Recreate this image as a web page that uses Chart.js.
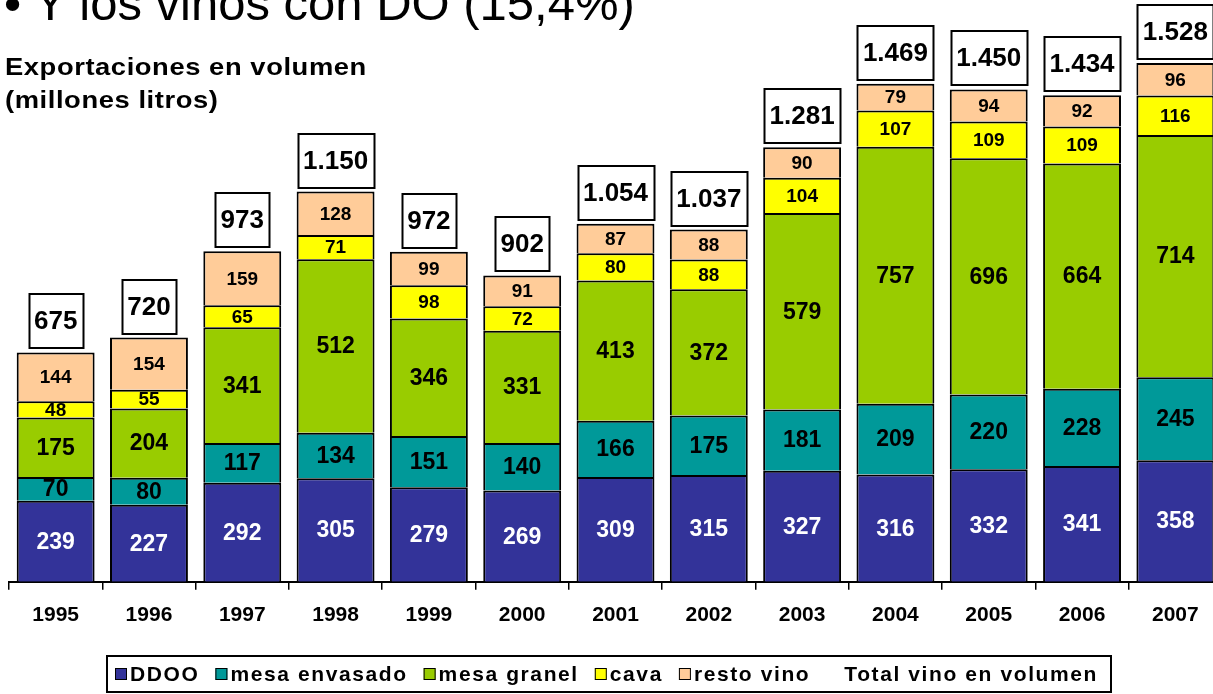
<!DOCTYPE html>
<html>
<head>
<meta charset="utf-8">
<script src="https://cdn.jsdelivr.net/npm/chart.js@4.4.1/dist/chart.umd.min.js"></script>
<style>
html, body { margin: 0; padding: 0; background: #fff; overflow: hidden; width: 1213px; height: 694px; }
#wrap { position: relative; width: 1224px; height: 694px; }
#title { position: absolute; left: 4px; top: -21px; font: 49px "Liberation Sans", Arial, sans-serif; line-height: 48px; white-space: nowrap; color: #000; }
#ytitle { position: absolute; left: 5px; top: 50px; font: bold 24px "Liberation Sans", Arial, sans-serif; line-height: 33px; letter-spacing: 0.5px; color: #000; white-space: nowrap; transform: scaleX(1.14); transform-origin: 0 0; }
canvas { position: absolute; left: 0; top: 0; }
</style>
</head>
<body>
<div id="wrap">
    <canvas id="chart" width="1224" height="694"></canvas>
    <div id="title">&bull; Y los vinos con DO (15,4%)</div>
    <div id="ytitle">Exportaciones en volumen<br>(millones litros)</div>
</div>
<script>
// Data
const years = ['1995', '1996', '1997', '1998', '1999', '2000', '2001', '2002', '2003', '2004', '2005', '2006', '2007'];
const ddoo = [239, 227, 292, 305, 279, 269, 309, 315, 327, 316, 332, 341, 358];
const mesaEnvasado = [70, 80, 117, 134, 151, 140, 166, 175, 181, 209, 220, 228, 245];
const mesaGranel = [175, 204, 341, 512, 346, 331, 413, 372, 579, 757, 696, 664, 714];
const cava = [48, 55, 65, 71, 98, 72, 80, 88, 104, 107, 109, 109, 116];
const restoVino = [144, 154, 159, 128, 99, 91, 87, 88, 90, 79, 94, 92, 96];
const totalVino = [675, 720, 973, 1150, 972, 902, 1054, 1037, 1281, 1469, 1450, 1434, 1528];

const FONT = '"Liberation Sans", Arial, sans-serif';

// 1150 -> "1.150"
function fmt(n) {
    if (n < 1000) return String(n);
    return Math.floor(n / 1000) + '.' + String(n % 1000).padStart(3, '0');
}

function barSet(label, data, color) {
    return {
        label: label,
        data: data,
        backgroundColor: color,
        borderColor: '#000',
        // only top + sides, so each divider between segments stays 2px
        borderWidth: { top: 2, bottom: 0, left: 2, right: 2 },
        borderSkipped: false,
        inflateAmount: 0,
        barPercentage: 0.835,
        categoryPercentage: 1
    };
}

// Values inside each segment
const segmentLabels = {
    id: 'segmentLabels',
    afterDatasetsDraw(chart) {
        const ctx = chart.ctx;
        ctx.save();
        ctx.textAlign = 'center';
        ctx.textBaseline = 'middle';
        chart.data.datasets.forEach((ds, i) => {
            const meta = chart.getDatasetMeta(i);
            const size = i < 3 ? 23 : 19;
            ctx.font = `bold ${size}px ${FONT}`;
            ctx.fillStyle = i === 0 ? '#fff' : '#000';
            meta.data.forEach((bar, j) => {
                const y = (bar.y + bar.base) / 2 + 1;
                ctx.fillText(String(ds.data[j]), bar.x, y);
            });
        });
        ctx.restore();
    }
};

// Boxed totals above every stack
const totalBoxes = {
    id: 'totalBoxes',
    afterDatasetsDraw(chart) {
        const ctx = chart.ctx;
        const top = chart.getDatasetMeta(chart.data.datasets.length - 1);
        ctx.save();
        ctx.font = `bold 26px ${FONT}`;
        ctx.textAlign = 'center';
        ctx.textBaseline = 'middle';
        top.data.forEach((bar, j) => {
            const txt = fmt(totalVino[j]);
            const w = Math.round(ctx.measureText(txt).width + 11);
            const h = 54;
            const x = Math.round(bar.x - w / 2) + 0.5;
            const y = Math.round(bar.y - 4 - h);
            ctx.fillStyle = '#fff';
            ctx.fillRect(x, y, w, h);
            ctx.lineWidth = 2;
            ctx.strokeStyle = '#000';
            ctx.strokeRect(x, y, w, h);
            ctx.fillStyle = '#000';
            ctx.fillText(txt, bar.x, y + h / 2 + 1);
        });
        ctx.restore();
    }
};

// Boxed legend at the bottom
const boxLegend = {
    id: 'boxLegend',
    afterDraw(chart) {
        const ctx = chart.ctx;
        ctx.save();
        ctx.lineWidth = 2;
        ctx.strokeStyle = '#000';
        ctx.strokeRect(107, 656, 1004, 36);
        ctx.font = `bold 21px ${FONT}`;
        if ('letterSpacing' in ctx) ctx.letterSpacing = '1.6px';
        ctx.textBaseline = 'middle';
        ctx.textAlign = 'left';
        const cy = 674;
        let x = 115;
        chart.data.datasets.forEach(ds => {
            ctx.fillStyle = ds.backgroundColor;
            ctx.fillRect(x, cy - 6, 12, 12);
            ctx.lineWidth = 1;
            ctx.strokeStyle = '#000';
            ctx.strokeRect(x + 0.5, cy - 5.5, 11, 11);
            ctx.fillStyle = '#000';
            ctx.fillText(ds.label, x + 15, cy + 1);
            x += 15 + ctx.measureText(ds.label).width + 16;
        });
        ctx.fillText('Total vino en volumen', x + 18, cy + 1);
        ctx.restore();
    }
};

const ctx = document.getElementById('chart').getContext('2d');

new Chart(ctx, {
    type: 'bar',
    data: {
        labels: years,
        datasets: [
            barSet('DDOO', ddoo, '#333399'),
            barSet('mesa envasado', mesaEnvasado, '#009999'),
            barSet('mesa granel', mesaGranel, '#99CC00'),
            barSet('cava', cava, '#FFFF00'),
            barSet('resto vino', restoVino, '#FFCC99')
        ]
    },
    options: {
        responsive: false,
        animation: false,
        layout: { padding: { left: 9, right: 2, top: 5, bottom: 53 } },
        scales: {
            x: {
                stacked: true,
                grid: { offset: true, drawOnChartArea: false, drawTicks: true, tickLength: 8, color: '#000', lineWidth: 1.5 },
                border: { display: true, color: '#000', width: 2 },
                ticks: { color: '#000', font: { family: FONT, weight: 'bold', size: 21 }, padding: 13, maxRotation: 0 }
            },
            y: {
                stacked: true,
                display: false,
                min: 0,
                max: 1700
            }
        },
        plugins: {
            legend: { display: false },
            tooltip: { enabled: false }
        }
    },
    plugins: [segmentLabels, totalBoxes, boxLegend]
});
</script>
</body>
</html>
